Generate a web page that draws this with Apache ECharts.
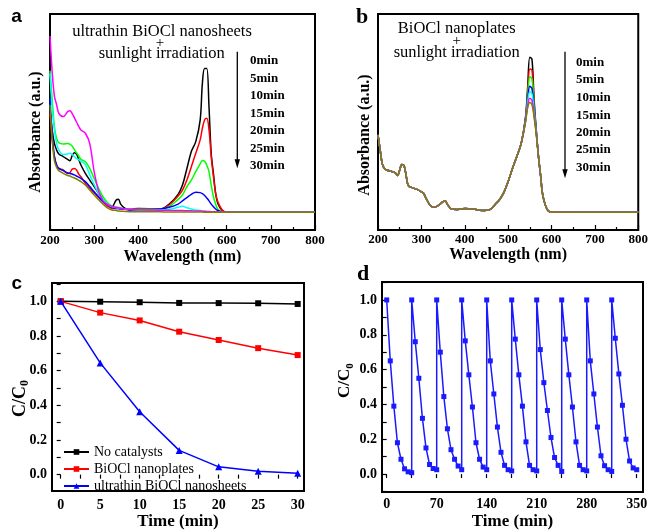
<!DOCTYPE html>
<html><head><meta charset="utf-8">
<script src="https://cdn.jsdelivr.net/npm/echarts@6/dist/echarts.min.js"></script>
<style>html,body{margin:0;padding:0;background:#fff}#c{width:651px;height:531px}</style>
</head><body><div id="c"></div>
<script>
// ---------- Panel a: ultrathin BiOCl nanosheets spectra ----------
const aWave = [200,205,210,215,220,230,240,245,250,255,260,265,270,280,290,300,310,320,330,340,350,355,360,370,380,400,450,470,490,500,510,520,530,540,545,550,555,560,565,570,575,580,590,600,620,700,800];
const a0min  = [0.556,0.463,0.401,0.370,0.352,0.340,0.327,0.321,0.343,0.358,0.352,0.327,0.301,0.262,0.231,0.201,0.170,0.142,0.116,0.108,0.139,0.142,0.120,0.100,0.096,0.100,0.097,0.120,0.165,0.208,0.285,0.363,0.409,0.509,0.679,0.748,0.748,0.571,0.355,0.262,0.170,0.123,0.090,0.082,0.082,0.082,0.082];
const a5min  = [0.540,0.417,0.340,0.301,0.285,0.278,0.262,0.265,0.281,0.285,0.278,0.259,0.247,0.216,0.193,0.173,0.151,0.131,0.111,0.100,0.100,0.100,0.097,0.096,0.093,0.096,0.096,0.116,0.157,0.185,0.231,0.293,0.355,0.417,0.471,0.509,0.517,0.463,0.340,0.247,0.170,0.131,0.093,0.083,0.082,0.082,0.082];
const a10min = [0.738,0.602,0.478,0.424,0.404,0.398,0.401,0.398,0.389,0.373,0.358,0.343,0.327,0.316,0.285,0.239,0.193,0.154,0.127,0.111,0.105,0.105,0.102,0.097,0.096,0.096,0.096,0.108,0.142,0.162,0.201,0.231,0.270,0.306,0.322,0.318,0.300,0.270,0.208,0.154,0.120,0.096,0.083,0.082,0.082,0.082,0.082];
const a15min = [0.610,0.440,0.340,0.300,0.285,0.275,0.264,0.262,0.259,0.255,0.250,0.245,0.239,0.224,0.201,0.177,0.154,0.131,0.116,0.105,0.100,0.100,0.097,0.096,0.093,0.093,0.097,0.105,0.120,0.135,0.150,0.165,0.175,0.173,0.168,0.160,0.148,0.135,0.120,0.108,0.097,0.090,0.084,0.082,0.082,0.082,0.082];
const a20min = [0.725,0.560,0.463,0.400,0.370,0.350,0.352,0.355,0.350,0.340,0.330,0.326,0.318,0.303,0.255,0.210,0.170,0.142,0.120,0.108,0.103,0.102,0.100,0.097,0.096,0.093,0.093,0.096,0.105,0.110,0.103,0.097,0.093,0.090,0.088,0.086,0.085,0.084,0.083,0.083,0.082,0.082,0.082,0.082,0.082,0.082,0.082];
const a25min = [0.898,0.730,0.620,0.580,0.540,0.525,0.548,0.552,0.540,0.520,0.500,0.480,0.463,0.448,0.400,0.270,0.180,0.135,0.118,0.110,0.104,0.103,0.101,0.098,0.096,0.094,0.092,0.091,0.090,0.090,0.089,0.089,0.088,0.088,0.087,0.087,0.086,0.086,0.085,0.085,0.084,0.084,0.083,0.083,0.082,0.082,0.082];
const a30min = [0.580,0.420,0.320,0.290,0.275,0.262,0.252,0.250,0.245,0.241,0.236,0.230,0.224,0.208,0.185,0.162,0.140,0.120,0.103,0.093,0.090,0.088,0.087,0.086,0.085,0.085,0.084,0.083,0.083,0.083,0.083,0.083,0.083,0.083,0.083,0.082,0.082,0.082,0.082,0.082,0.082,0.082,0.082,0.082,0.082,0.082,0.082];

// ---------- Panel b: BiOCl nanoplates spectra ----------
const bWave = [200,205,210,215,220,230,240,245,250,255,260,265,270,280,290,300,305,310,320,330,340,350,355,360,370,380,400,420,440,450,460,470,480,490,500,510,520,530,540,545,550,555,560,565,570,575,580,590,600,700,800];
const bShared200to530 = [0.440,0.370,0.305,0.285,0.278,0.272,0.265,0.252,0.278,0.303,0.298,0.250,0.205,0.195,0.188,0.177,0.170,0.150,0.115,0.105,0.115,0.131,0.134,0.118,0.097,0.095,0.100,0.097,0.090,0.091,0.097,0.118,0.140,0.173,0.224,0.285,0.340,0.400];
const bShared580to800 = [0.160,0.095,0.083,0.082,0.082];
const bPeak0min  = [0.520,0.660,0.800,0.790,0.600,0.460,0.340,0.250];
const bPeak5min  = [0.515,0.630,0.745,0.740,0.580,0.455,0.340,0.250];
const bPeak10min = [0.510,0.615,0.710,0.700,0.570,0.452,0.340,0.250];
const bPeak15min = [0.510,0.600,0.665,0.655,0.555,0.450,0.340,0.250];
const bPeak20min = [0.505,0.590,0.640,0.630,0.545,0.447,0.340,0.250];
const bPeak25min = [0.500,0.575,0.610,0.600,0.530,0.443,0.340,0.250];
const bPeak30min = [0.500,0.565,0.590,0.580,0.520,0.440,0.340,0.250];

// ---------- Panel c: C/C0 vs time ----------
const cTime = [0,5,10,15,20,25,30];
const cNoCatalyst = [1.000,0.998,0.995,0.991,0.990,0.989,0.985];
const cNanoplates = [1.000,0.935,0.890,0.825,0.777,0.730,0.690];
const cNanosheets = [1.000,0.645,0.363,0.140,0.045,0.020,0.008];
const cXLabels = [0,5,10,15,20,25,30];
const cXTicks = [0,2.5,5,7.5,10,12.5,15,17.5,20,22.5,25,27.5,30];

// ---------- Panel d: cycling ----------
const dCycleStart = [0,35,70,105,140,175,210,245,280,315];
const dSampleMin = [0,5,10,15,20,25,30,35];
const dCycles = [
  [1.0,0.650,0.390,0.180,0.085,0.030,0.013,0.008],
  [1.0,0.760,0.550,0.320,0.150,0.055,0.032,0.025],
  [1.0,0.700,0.445,0.260,0.140,0.085,0.046,0.025],
  [1.0,0.765,0.570,0.385,0.180,0.085,0.040,0.025],
  [1.0,0.650,0.460,0.270,0.125,0.050,0.025,0.018],
  [1.0,0.775,0.570,0.390,0.185,0.050,0.025,0.018],
  [1.0,0.715,0.525,0.365,0.210,0.095,0.050,0.015],
  [1.0,0.775,0.570,0.385,0.185,0.050,0.025,0.018],
  [1.0,0.650,0.460,0.270,0.105,0.048,0.025,0.015],
  [1.0,0.780,0.575,0.395,0.200,0.075,0.035,0.025]
];
const dXLabels = [0,70,140,210,280,350];
const dXTicks = [0,35,70,105,140,175,210,245,280,315,350];
const ratioLabels = [0,0.2,0.4,0.6,0.8,1.0];
const ratioTicks = [-0.1,0,0.1,0.2,0.3,0.4,0.5,0.6,0.7,0.8,0.9,1.0,1.1];
const timeLabels = ['0min','5min','10min','15min','20min','25min','30min'];
const specColors = ['#000000','#ff0000','#00ff00','#0000ff','#00ffff','#ff00ff','#808000'];

const SERIF = '"Liberation Serif","Times New Roman",serif';
const SANS = '"Liberation Sans",Arial,sans-serif';

const aSets = [a0min,a5min,a10min,a15min,a20min,a25min,a30min];
const bPeaks = [bPeak0min,bPeak5min,bPeak10min,bPeak15min,bPeak20min,bPeak25min,bPeak30min];

const series = [];
aSets.forEach((arr, k) => {
  series.push({ name: 'a' + timeLabels[k], type: 'line', xAxisIndex: 0, yAxisIndex: 0,
    data: aWave.map((w, i) => [w, arr[i]]), showSymbol: false, smooth: 0.35,
    lineStyle: { width: 1.5, color: specColors[k] }, itemStyle: { color: specColors[k] } });
});
bPeaks.forEach((pk, k) => {
  const vals = bShared200to530.concat(pk, bShared580to800);
  series.push({ name: 'b' + timeLabels[k], type: 'line', xAxisIndex: 1, yAxisIndex: 1,
    data: bWave.map((w, i) => [w, vals[i]]), showSymbol: false, smooth: 0.35,
    lineStyle: { width: 1.5, color: specColors[k] }, itemStyle: { color: specColors[k] } });
});
const cDefs = [
  ['No catalysts', cNoCatalyst, '#000000', 'rect', 6],
  ['BiOCl nanoplates', cNanoplates, '#ff0000', 'rect', 6],
  ['ultrathin BiOCl nanosheets', cNanosheets, '#0000ff', 'triangle', 7]
];
cDefs.forEach(d => {
  series.push({ name: d[0], type: 'line', xAxisIndex: 2, yAxisIndex: 2,
    data: cTime.map((t, i) => [t, d[1][i]]), symbol: d[3], symbolSize: d[4],
    lineStyle: { width: 1.5, color: d[2] }, itemStyle: { color: d[2] } });
});
const dData = [];
dCycles.forEach((cyc, j) => cyc.forEach((v, i) => dData.push([dCycleStart[j] + dSampleMin[i], v])));
series.push({ name: 'cycle', type: 'line', xAxisIndex: 3, yAxisIndex: 3,
  data: dData, symbol: 'rect', symbolSize: 5,
  lineStyle: { width: 1.5, color: '#1a1aff' }, itemStyle: { color: '#1a1aff' } });

const tickLbl = (sz) => ({ color: '#000', fontFamily: SERIF, fontWeight: 'bold', fontSize: sz });
const nameStyle = (sz) => ({ color: '#000', fontFamily: SERIF, fontWeight: 'bold', fontSize: sz });

function specX(gi, labelMargin, nameGap) {
  return { gridIndex: gi, type: 'value', min: 200, max: 800, interval: 100,
    axisLine: { show: false }, splitLine: { show: false },
    axisTick: { inside: true, length: 5, lineStyle: { color: '#000', width: 1.2 } },
    minorTick: { show: true, splitNumber: 2, length: 3, lineStyle: { color: '#000', width: 1.2 } },
    axisLabel: Object.assign({ margin: labelMargin }, tickLbl(13)),
    name: 'Wavelength (nm)', nameLocation: 'middle', nameGap: nameGap, nameTextStyle: nameStyle(16) };
}
function specY(gi) {
  return { gridIndex: gi, type: 'value', min: 0, max: 1, show: true,
    axisLine: { show: false }, axisTick: { show: false }, axisLabel: { show: false }, splitLine: { show: false } };
}
function customAxis(gi, min, max, ticks, labels, margin, fmt, extra) {
  return Object.assign({ gridIndex: gi, type: 'value', min: min, max: max,
    axisLine: { show: false }, splitLine: { show: false },
    axisTick: { length: 4, customValues: ticks, lineStyle: { color: '#000', width: 1.2 } },
    axisLabel: Object.assign({ margin: margin, customValues: labels, formatter: fmt }, tickLbl(14)) }, extra || {});
}
const fmt1 = v => Number(v).toFixed(1);
const fmt0 = v => String(Math.round(v));

const option = {
  animation: false,
  backgroundColor: '#fff',
  grid: [
    { left: 50, top: 14, width: 265, height: 216, show: true, borderColor: '#000', borderWidth: 2, backgroundColor: 'transparent' },
    { left: 378, top: 14, width: 265, height: 216, show: true, borderColor: '#000', borderWidth: 2, backgroundColor: 'transparent' },
    { left: 52, top: 283, width: 252, height: 215, show: true, borderColor: '#000', borderWidth: 2, backgroundColor: 'transparent' },
    { left: 382, top: 282, width: 261, height: 211, show: true, borderColor: '#000', borderWidth: 2, backgroundColor: 'transparent' }
  ],
  xAxis: [
    specX(0, 4, 19),
    specX(1, 3, 10),
    customAxis(2, -1.1, 30.8, cXTicks, cXLabels, 7, fmt0,
      { name: 'Time (min)', nameLocation: 'middle', nameGap: 17, nameTextStyle: nameStyle(17) }),
    customAxis(3, -6.58, 358.8, dXTicks, dXLabels, 5, fmt0,
      { name: 'Time (min)', nameLocation: 'middle', nameGap: 21, nameTextStyle: nameStyle(17) })
  ],
  yAxis: [
    specY(0), specY(1),
    customAxis(2, -0.095, 1.106, ratioTicks, ratioLabels, 5, fmt1),
    customAxis(3, -0.103, 1.103, ratioTicks, ratioLabels, 5, fmt1)
  ],
  legend: {
    data: ['No catalysts', 'BiOCl nanoplates', 'ultrathin BiOCl nanosheets'],
    orient: 'vertical', left: 63, top: 445, itemWidth: 25, itemHeight: 7, itemGap: 3, padding: 0,
    textStyle: { color: '#000', fontFamily: SERIF, fontSize: 14, lineHeight: 14 }
  },
  series: series,
  graphic: { elements: [] }
};

const G = option.graphic.elements;
function txt(x, y, text, font, align, rot) {
  G.push({ type: 'text', x: x, y: y, rotation: rot || 0, z: 10,
    style: { text: text, font: font, fill: '#000', align: align || 'center', verticalAlign: 'middle' } });
}
// panel letters
txt(16.5, 17, 'a', 'bold 19px ' + SANS);
txt(362, 17.5, 'b', 'bold 22px ' + SERIF);
txt(16.7, 283.5, 'c', 'bold 19px ' + SANS);
txt(363, 274, 'd', 'bold 22px ' + SERIF);
// y titles
txt(36, 132, 'Absorbance (a.u.)', 'bold 16px ' + SERIF, 'center', Math.PI / 2);
txt(364.5, 135, 'Absorbance (a.u.)', 'bold 16px ' + SERIF, 'center', Math.PI / 2);
function cc0(x, y, big, small) {
  G.push({ type: 'group', x: x, y: y, rotation: Math.PI / 2, z: 10, children: [
    { type: 'text', x: -small * 0.3, y: 0, style: { text: 'C/C', font: 'bold ' + big + 'px ' + SERIF, fill: '#000', align: 'center', verticalAlign: 'middle' } },
    { type: 'text', x: big * 0.86 - small * 0.3, y: big * 0.28, style: { text: '0', font: 'bold ' + small + 'px ' + SERIF, fill: '#000', align: 'left', verticalAlign: 'middle' } }
  ]});
}
cc0(20, 398, 18, 12);
cc0(345, 380, 17, 11);
// annotations panel a
txt(162, 32, 'ultrathin BiOCl nanosheets', '16.5px ' + SERIF);
txt(160, 43, '+', '15px ' + SERIF);
txt(161.7, 54, 'sunlight irradiation', '16.5px ' + SERIF);
// annotations panel b
txt(456.7, 29, 'BiOCl nanoplates', '16.5px ' + SERIF);
txt(456.7, 41, '+', '15px ' + SERIF);
txt(456.7, 52.5, 'sunlight irradiation', '16.5px ' + SERIF);
const aLabY = [61, 78.3, 96, 113.3, 130.7, 148.3, 165.7];
const bLabY = [62.7, 80, 98, 115.3, 132.7, 150, 167.7];
timeLabels.forEach((t, i) => {
  txt(250, aLabY[i], t, 'bold 13px ' + SERIF, 'left');
  txt(576, bLabY[i], t, 'bold 13px ' + SERIF, 'left');
});
function arrow(x, y1, y2) {
  G.push({ type: 'line', shape: { x1: x, y1: y1, x2: x, y2: y2 - 6 }, style: { stroke: '#000', lineWidth: 1.3 }, z: 10 });
  G.push({ type: 'polygon', shape: { points: [[x - 2.7, y2 - 9], [x + 2.7, y2 - 9], [x, y2]] }, style: { fill: '#000' }, z: 10 });
}
arrow(237.3, 51.7, 168.3);
arrow(565, 51.7, 178.3);

const chart = echarts.init(document.getElementById('c'), null, { renderer: 'canvas' });
chart.setOption(option);
</script></body></html>
